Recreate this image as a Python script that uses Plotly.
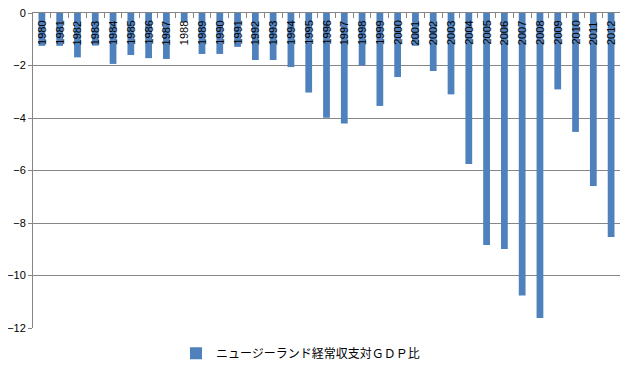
import plotly.graph_objects as go

years = [str(y) for y in range(1980, 2013)]
values = [-1.25, -1.25, -1.69, -1.24, -1.94, -1.6, -1.72, -1.75, -0.35, -1.56,
          -1.56, -1.29, -1.79, -1.79, -2.06, -3.03, -3.99, -4.21, -2.0, -3.54,
          -2.44, -1.25, -2.21, -3.1, -5.75, -8.84, -8.99, -10.76, -11.62, -2.91,
          -4.53, -6.59, -8.53]
series_name = "ニュージーランド経常収支対ＧＤＰ比"
y_ticks = [0, -2, -4, -6, -8, -10, -12]

fig = go.Figure()
fig.add_trace(go.Bar(x=years, y=values, name=series_name, marker_color="#4F81BD",
                     marker_line_width=0, showlegend=True))

# category labels just below the zero line (inside the plot); x given as category index
for i, yr in enumerate(years):
    fig.add_annotation(x=i, y=0, xref="x", yref="y", text=yr, textangle=-90,
                       showarrow=False, xanchor="center", yanchor="top", yshift=-6,
                       font=dict(family="Liberation Sans, Arial, sans-serif", size=11,
                                 color="black"))

grid = "#868686"
fig.update_layout(
    width=622, height=361,
    margin=dict(l=25, r=10, t=5, b=41, autoexpand=False),
    paper_bgcolor="white", plot_bgcolor="white",
    bargap=0.62,
    font=dict(family="Liberation Sans, Arial, sans-serif", size=11, color="black"),
    legend=dict(orientation="h", x=0.2436, xanchor="left", y=-0.08, yanchor="middle",
                font=dict(family="Noto Sans CJK JP", size=12)),
)
fig.update_xaxes(type="category", side="top", showline=True, linecolor=grid, linewidth=1,
                 range=[-0.5, len(years) - 0.5],
                 ticks="inside", tickson="boundaries", ticklen=5, tickcolor=grid,
                 showticklabels=False, showgrid=False, automargin=False)
fig.update_yaxes(range=[-12, 0], tickvals=y_ticks, showgrid=True, gridcolor=grid,
                 showline=True, linecolor=grid, ticks="outside", ticklen=4, tickcolor=grid,
                 zeroline=False, automargin=False, ticklabeloverflow="allow",
                 tickfont=dict(size=11))

fig.write_html("out.html")
